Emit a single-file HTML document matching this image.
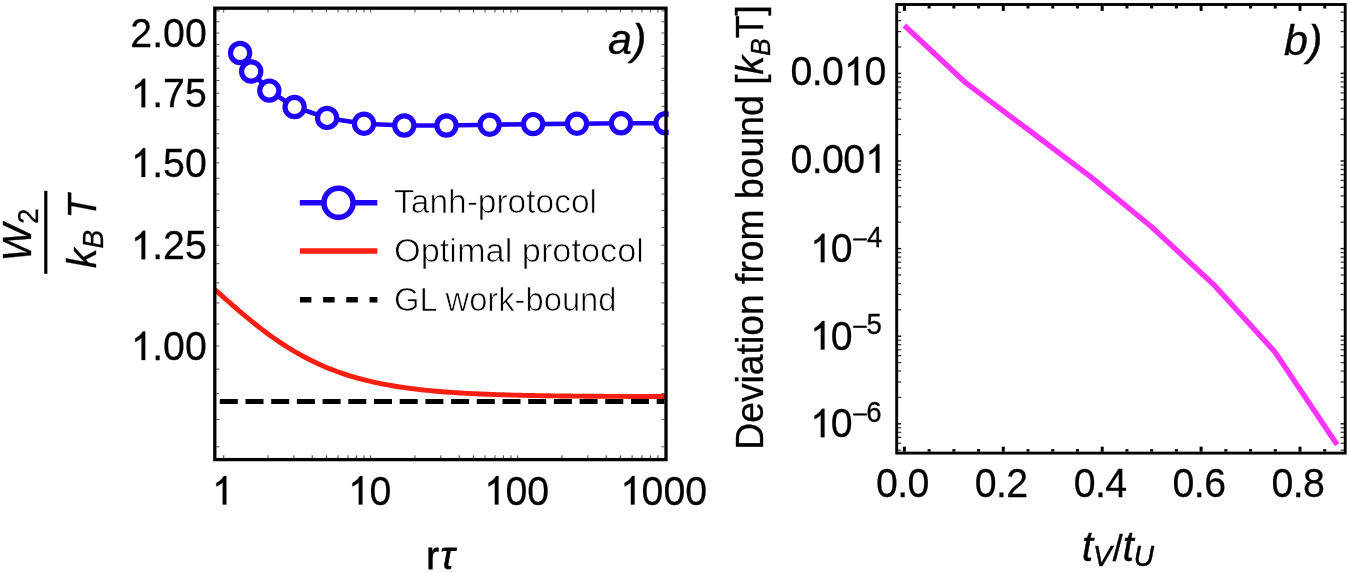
<!DOCTYPE html>
<html><head><meta charset="utf-8"><style>html,body{margin:0;padding:0;background:#fff;}svg{display:block;will-change:transform;}</style></head>
<body><svg width="1350" height="573" viewBox="0 0 1350 573">
<rect width="1350" height="573" fill="#fff"/>
<line x1="216.4" y1="446.77" x2="219.4" y2="446.77" stroke="#555" stroke-width="1"/>
<line x1="661.4" y1="446.77" x2="664.4" y2="446.77" stroke="#555" stroke-width="1"/>
<line x1="216.4" y1="419.39" x2="219.4" y2="419.39" stroke="#555" stroke-width="1"/>
<line x1="661.4" y1="419.39" x2="664.4" y2="419.39" stroke="#555" stroke-width="1"/>
<line x1="216.4" y1="393.58" x2="219.4" y2="393.58" stroke="#555" stroke-width="1"/>
<line x1="661.4" y1="393.58" x2="664.4" y2="393.58" stroke="#555" stroke-width="1"/>
<line x1="216.4" y1="369.16" x2="219.4" y2="369.16" stroke="#555" stroke-width="1"/>
<line x1="661.4" y1="369.16" x2="664.4" y2="369.16" stroke="#555" stroke-width="1"/>
<line x1="216.4" y1="346.00" x2="219.4" y2="346.00" stroke="#555" stroke-width="1"/>
<line x1="661.4" y1="346.00" x2="664.4" y2="346.00" stroke="#555" stroke-width="1"/>
<line x1="216.4" y1="323.97" x2="219.4" y2="323.97" stroke="#555" stroke-width="1"/>
<line x1="661.4" y1="323.97" x2="664.4" y2="323.97" stroke="#555" stroke-width="1"/>
<line x1="216.4" y1="302.96" x2="219.4" y2="302.96" stroke="#555" stroke-width="1"/>
<line x1="661.4" y1="302.96" x2="664.4" y2="302.96" stroke="#555" stroke-width="1"/>
<line x1="216.4" y1="282.88" x2="219.4" y2="282.88" stroke="#555" stroke-width="1"/>
<line x1="661.4" y1="282.88" x2="664.4" y2="282.88" stroke="#555" stroke-width="1"/>
<line x1="216.4" y1="263.66" x2="219.4" y2="263.66" stroke="#555" stroke-width="1"/>
<line x1="661.4" y1="263.66" x2="664.4" y2="263.66" stroke="#555" stroke-width="1"/>
<line x1="216.4" y1="245.23" x2="219.4" y2="245.23" stroke="#555" stroke-width="1"/>
<line x1="661.4" y1="245.23" x2="664.4" y2="245.23" stroke="#555" stroke-width="1"/>
<line x1="216.4" y1="227.52" x2="219.4" y2="227.52" stroke="#555" stroke-width="1"/>
<line x1="661.4" y1="227.52" x2="664.4" y2="227.52" stroke="#555" stroke-width="1"/>
<line x1="216.4" y1="210.47" x2="219.4" y2="210.47" stroke="#555" stroke-width="1"/>
<line x1="661.4" y1="210.47" x2="664.4" y2="210.47" stroke="#555" stroke-width="1"/>
<line x1="216.4" y1="194.05" x2="219.4" y2="194.05" stroke="#555" stroke-width="1"/>
<line x1="661.4" y1="194.05" x2="664.4" y2="194.05" stroke="#555" stroke-width="1"/>
<line x1="216.4" y1="178.20" x2="219.4" y2="178.20" stroke="#555" stroke-width="1"/>
<line x1="661.4" y1="178.20" x2="664.4" y2="178.20" stroke="#555" stroke-width="1"/>
<line x1="216.4" y1="162.89" x2="219.4" y2="162.89" stroke="#555" stroke-width="1"/>
<line x1="661.4" y1="162.89" x2="664.4" y2="162.89" stroke="#555" stroke-width="1"/>
<line x1="216.4" y1="148.08" x2="219.4" y2="148.08" stroke="#555" stroke-width="1"/>
<line x1="661.4" y1="148.08" x2="664.4" y2="148.08" stroke="#555" stroke-width="1"/>
<line x1="216.4" y1="133.75" x2="219.4" y2="133.75" stroke="#555" stroke-width="1"/>
<line x1="661.4" y1="133.75" x2="664.4" y2="133.75" stroke="#555" stroke-width="1"/>
<line x1="216.4" y1="119.85" x2="219.4" y2="119.85" stroke="#555" stroke-width="1"/>
<line x1="661.4" y1="119.85" x2="664.4" y2="119.85" stroke="#555" stroke-width="1"/>
<line x1="216.4" y1="106.37" x2="219.4" y2="106.37" stroke="#555" stroke-width="1"/>
<line x1="661.4" y1="106.37" x2="664.4" y2="106.37" stroke="#555" stroke-width="1"/>
<line x1="216.4" y1="93.28" x2="219.4" y2="93.28" stroke="#555" stroke-width="1"/>
<line x1="661.4" y1="93.28" x2="664.4" y2="93.28" stroke="#555" stroke-width="1"/>
<line x1="216.4" y1="80.56" x2="219.4" y2="80.56" stroke="#555" stroke-width="1"/>
<line x1="661.4" y1="80.56" x2="664.4" y2="80.56" stroke="#555" stroke-width="1"/>
<line x1="216.4" y1="68.18" x2="219.4" y2="68.18" stroke="#555" stroke-width="1"/>
<line x1="661.4" y1="68.18" x2="664.4" y2="68.18" stroke="#555" stroke-width="1"/>
<line x1="216.4" y1="56.14" x2="219.4" y2="56.14" stroke="#555" stroke-width="1"/>
<line x1="661.4" y1="56.14" x2="664.4" y2="56.14" stroke="#555" stroke-width="1"/>
<line x1="216.4" y1="44.41" x2="219.4" y2="44.41" stroke="#555" stroke-width="1"/>
<line x1="661.4" y1="44.41" x2="664.4" y2="44.41" stroke="#555" stroke-width="1"/>
<line x1="216.4" y1="32.97" x2="219.4" y2="32.97" stroke="#555" stroke-width="1"/>
<line x1="661.4" y1="32.97" x2="664.4" y2="32.97" stroke="#555" stroke-width="1"/>
<line x1="216.4" y1="21.82" x2="219.4" y2="21.82" stroke="#555" stroke-width="1"/>
<line x1="661.4" y1="21.82" x2="664.4" y2="21.82" stroke="#555" stroke-width="1"/>
<line x1="216.4" y1="10.94" x2="219.4" y2="10.94" stroke="#555" stroke-width="1"/>
<line x1="661.4" y1="10.94" x2="664.4" y2="10.94" stroke="#555" stroke-width="1"/>
<line x1="223.70" y1="457.9" x2="223.70" y2="455.2" stroke="#555" stroke-width="1.1"/>
<line x1="223.70" y1="9.8" x2="223.70" y2="12.5" stroke="#555" stroke-width="1.1"/>
<line x1="267.95" y1="457.9" x2="267.95" y2="455.2" stroke="#555" stroke-width="1.1"/>
<line x1="267.95" y1="9.8" x2="267.95" y2="12.5" stroke="#555" stroke-width="1.1"/>
<line x1="293.84" y1="457.9" x2="293.84" y2="455.2" stroke="#555" stroke-width="1.1"/>
<line x1="293.84" y1="9.8" x2="293.84" y2="12.5" stroke="#555" stroke-width="1.1"/>
<line x1="312.20" y1="457.9" x2="312.20" y2="455.2" stroke="#555" stroke-width="1.1"/>
<line x1="312.20" y1="9.8" x2="312.20" y2="12.5" stroke="#555" stroke-width="1.1"/>
<line x1="326.45" y1="457.9" x2="326.45" y2="455.2" stroke="#555" stroke-width="1.1"/>
<line x1="326.45" y1="9.8" x2="326.45" y2="12.5" stroke="#555" stroke-width="1.1"/>
<line x1="338.09" y1="457.9" x2="338.09" y2="455.2" stroke="#555" stroke-width="1.1"/>
<line x1="338.09" y1="9.8" x2="338.09" y2="12.5" stroke="#555" stroke-width="1.1"/>
<line x1="347.93" y1="457.9" x2="347.93" y2="455.2" stroke="#555" stroke-width="1.1"/>
<line x1="347.93" y1="9.8" x2="347.93" y2="12.5" stroke="#555" stroke-width="1.1"/>
<line x1="356.45" y1="457.9" x2="356.45" y2="455.2" stroke="#555" stroke-width="1.1"/>
<line x1="356.45" y1="9.8" x2="356.45" y2="12.5" stroke="#555" stroke-width="1.1"/>
<line x1="363.97" y1="457.9" x2="363.97" y2="455.2" stroke="#555" stroke-width="1.1"/>
<line x1="363.97" y1="9.8" x2="363.97" y2="12.5" stroke="#555" stroke-width="1.1"/>
<line x1="370.70" y1="457.9" x2="370.70" y2="455.2" stroke="#555" stroke-width="1.1"/>
<line x1="370.70" y1="9.8" x2="370.70" y2="12.5" stroke="#555" stroke-width="1.1"/>
<line x1="414.95" y1="457.9" x2="414.95" y2="455.2" stroke="#555" stroke-width="1.1"/>
<line x1="414.95" y1="9.8" x2="414.95" y2="12.5" stroke="#555" stroke-width="1.1"/>
<line x1="440.84" y1="457.9" x2="440.84" y2="455.2" stroke="#555" stroke-width="1.1"/>
<line x1="440.84" y1="9.8" x2="440.84" y2="12.5" stroke="#555" stroke-width="1.1"/>
<line x1="459.20" y1="457.9" x2="459.20" y2="455.2" stroke="#555" stroke-width="1.1"/>
<line x1="459.20" y1="9.8" x2="459.20" y2="12.5" stroke="#555" stroke-width="1.1"/>
<line x1="473.45" y1="457.9" x2="473.45" y2="455.2" stroke="#555" stroke-width="1.1"/>
<line x1="473.45" y1="9.8" x2="473.45" y2="12.5" stroke="#555" stroke-width="1.1"/>
<line x1="485.09" y1="457.9" x2="485.09" y2="455.2" stroke="#555" stroke-width="1.1"/>
<line x1="485.09" y1="9.8" x2="485.09" y2="12.5" stroke="#555" stroke-width="1.1"/>
<line x1="494.93" y1="457.9" x2="494.93" y2="455.2" stroke="#555" stroke-width="1.1"/>
<line x1="494.93" y1="9.8" x2="494.93" y2="12.5" stroke="#555" stroke-width="1.1"/>
<line x1="503.45" y1="457.9" x2="503.45" y2="455.2" stroke="#555" stroke-width="1.1"/>
<line x1="503.45" y1="9.8" x2="503.45" y2="12.5" stroke="#555" stroke-width="1.1"/>
<line x1="510.97" y1="457.9" x2="510.97" y2="455.2" stroke="#555" stroke-width="1.1"/>
<line x1="510.97" y1="9.8" x2="510.97" y2="12.5" stroke="#555" stroke-width="1.1"/>
<line x1="517.70" y1="457.9" x2="517.70" y2="455.2" stroke="#555" stroke-width="1.1"/>
<line x1="517.70" y1="9.8" x2="517.70" y2="12.5" stroke="#555" stroke-width="1.1"/>
<line x1="561.95" y1="457.9" x2="561.95" y2="455.2" stroke="#555" stroke-width="1.1"/>
<line x1="561.95" y1="9.8" x2="561.95" y2="12.5" stroke="#555" stroke-width="1.1"/>
<line x1="587.84" y1="457.9" x2="587.84" y2="455.2" stroke="#555" stroke-width="1.1"/>
<line x1="587.84" y1="9.8" x2="587.84" y2="12.5" stroke="#555" stroke-width="1.1"/>
<line x1="606.20" y1="457.9" x2="606.20" y2="455.2" stroke="#555" stroke-width="1.1"/>
<line x1="606.20" y1="9.8" x2="606.20" y2="12.5" stroke="#555" stroke-width="1.1"/>
<line x1="620.45" y1="457.9" x2="620.45" y2="455.2" stroke="#555" stroke-width="1.1"/>
<line x1="620.45" y1="9.8" x2="620.45" y2="12.5" stroke="#555" stroke-width="1.1"/>
<line x1="632.09" y1="457.9" x2="632.09" y2="455.2" stroke="#555" stroke-width="1.1"/>
<line x1="632.09" y1="9.8" x2="632.09" y2="12.5" stroke="#555" stroke-width="1.1"/>
<line x1="641.93" y1="457.9" x2="641.93" y2="455.2" stroke="#555" stroke-width="1.1"/>
<line x1="641.93" y1="9.8" x2="641.93" y2="12.5" stroke="#555" stroke-width="1.1"/>
<line x1="650.45" y1="457.9" x2="650.45" y2="455.2" stroke="#555" stroke-width="1.1"/>
<line x1="650.45" y1="9.8" x2="650.45" y2="12.5" stroke="#555" stroke-width="1.1"/>
<line x1="657.97" y1="457.9" x2="657.97" y2="455.2" stroke="#555" stroke-width="1.1"/>
<line x1="657.97" y1="9.8" x2="657.97" y2="12.5" stroke="#555" stroke-width="1.1"/>
<line x1="219.8" y1="401.5" x2="664.5" y2="401.5" stroke="#000" stroke-width="5" stroke-dasharray="18 7.7"/>
<path d="M214.8,289.46 L217.8,292.17 L220.9,294.88 L223.9,297.58 L226.9,300.26 L230.0,302.93 L233.0,305.58 L236.0,308.21 L239.1,310.82 L242.1,313.39 L245.1,315.94 L248.2,318.45 L251.2,320.93 L254.3,323.37 L257.3,325.78 L260.3,328.14 L263.4,330.45 L266.4,332.72 L269.4,334.95 L272.5,337.13 L275.5,339.26 L278.5,341.34 L281.6,343.37 L284.6,345.34 L287.6,347.27 L290.7,349.15 L293.7,350.97 L296.7,352.74 L299.8,354.46 L302.8,356.13 L305.8,357.74 L308.9,359.31 L311.9,360.82 L315.0,362.29 L318.0,363.71 L321.0,365.07 L324.1,366.39 L327.1,367.67 L330.1,368.90 L333.2,370.08 L336.2,371.22 L339.2,372.32 L342.3,373.37 L345.3,374.39 L348.3,375.36 L351.4,376.30 L354.4,377.20 L357.4,378.06 L360.5,378.89 L363.5,379.69 L366.5,380.45 L369.6,381.18 L372.6,381.88 L375.6,382.55 L378.7,383.20 L381.7,383.81 L384.8,384.40 L387.8,384.96 L390.8,385.50 L393.9,386.02 L396.9,386.51 L399.9,386.98 L403.0,387.43 L406.0,387.86 L409.0,388.27 L412.1,388.67 L415.1,389.04 L418.1,389.40 L421.2,389.74 L424.2,390.07 L427.2,390.38 L430.3,390.68 L433.3,390.96 L436.3,391.23 L439.4,391.49 L442.4,391.73 L445.5,391.97 L448.5,392.19 L451.5,392.40 L454.6,392.61 L457.6,392.80 L460.6,392.99 L463.7,393.16 L466.7,393.33 L469.7,393.49 L472.8,393.64 L475.8,393.79 L478.8,393.93 L481.9,394.06 L484.9,394.18 L487.9,394.30 L491.0,394.42 L494.0,394.52 L497.0,394.63 L500.1,394.73 L503.1,394.82 L506.2,394.91 L509.2,394.99 L512.2,395.08 L515.3,395.15 L518.3,395.23 L521.3,395.30 L524.4,395.36 L527.4,395.43 L530.4,395.49 L533.5,395.54 L536.5,395.60 L539.5,395.65 L542.6,395.70 L545.6,395.75 L548.6,395.79 L551.7,395.83 L554.7,395.87 L557.7,395.91 L560.8,395.95 L563.8,395.99 L566.8,396.02 L569.9,396.05 L572.9,396.08 L576.0,396.11 L579.0,396.14 L582.0,396.16 L585.1,396.19 L588.1,396.21 L591.1,396.23 L594.2,396.25 L597.2,396.28 L600.2,396.29 L603.3,396.31 L606.3,396.33 L609.3,396.35 L612.4,396.36 L615.4,396.38 L618.4,396.39 L621.5,396.41 L624.5,396.42 L627.5,396.43 L630.6,396.44 L633.6,396.45 L636.7,396.47 L639.7,396.48 L642.7,396.49 L645.8,396.49 L648.8,396.50 L651.8,396.51 L654.9,396.52 L657.9,396.53 L660.9,396.53 L664.0,396.54 L667.0,396.55" fill="none" stroke="#f81e10" stroke-width="4.9" stroke-linejoin="round"/>
<clipPath id="ca"><rect x="200" y="0" width="468.7" height="470"/></clipPath>
<g clip-path="url(#ca)">
<path d="M240.1,53.0 L251.2,71.5 L269.3,90.6 L294.6,107.0 L327.1,117.9 L364.0,123.7 L404.3,125.5 L446.5,125.5 L489.7,124.7 L533.1,124.1 L577.0,123.7 L621.0,123.3 L665.5,123.3" fill="none" stroke="#2000ff" stroke-width="4.6"/>
<circle cx="240.1" cy="53" r="9.6" fill="#fff" stroke="#2000ff" stroke-width="5.2"/>
<circle cx="251.2" cy="71.5" r="9.6" fill="#fff" stroke="#2000ff" stroke-width="5.2"/>
<circle cx="269.3" cy="90.6" r="9.6" fill="#fff" stroke="#2000ff" stroke-width="5.2"/>
<circle cx="294.6" cy="107" r="9.6" fill="#fff" stroke="#2000ff" stroke-width="5.2"/>
<circle cx="327.1" cy="117.9" r="9.6" fill="#fff" stroke="#2000ff" stroke-width="5.2"/>
<circle cx="364" cy="123.7" r="9.6" fill="#fff" stroke="#2000ff" stroke-width="5.2"/>
<circle cx="404.3" cy="125.5" r="9.6" fill="#fff" stroke="#2000ff" stroke-width="5.2"/>
<circle cx="446.5" cy="125.5" r="9.6" fill="#fff" stroke="#2000ff" stroke-width="5.2"/>
<circle cx="489.7" cy="124.7" r="9.6" fill="#fff" stroke="#2000ff" stroke-width="5.2"/>
<circle cx="533.1" cy="124.1" r="9.6" fill="#fff" stroke="#2000ff" stroke-width="5.2"/>
<circle cx="577" cy="123.7" r="9.6" fill="#fff" stroke="#2000ff" stroke-width="5.2"/>
<circle cx="621" cy="123.3" r="9.6" fill="#fff" stroke="#2000ff" stroke-width="5.2"/>
<circle cx="665.5" cy="123.3" r="9.6" fill="#fff" stroke="#2000ff" stroke-width="5.2"/>
</g>
<rect x="214.8" y="8.2" width="451.2" height="451.4" fill="none" stroke="#000" stroke-width="3.3"/>
<line x1="299.8" y1="202.7" x2="377.3" y2="202.7" stroke="#2000ff" stroke-width="5.4"/>
<circle cx="338.5" cy="202.8" r="14.6" fill="#fff" stroke="#2000ff" stroke-width="5.6"/>
<line x1="299.9" y1="251" x2="377.3" y2="251" stroke="#f81e10" stroke-width="5.4"/>
<line x1="299.9" y1="299.8" x2="377.4" y2="299.8" stroke="#000" stroke-width="5.6" stroke-dasharray="11.5 11.7"/>
<text x="394" y="213.1" font-family="Liberation Sans, sans-serif" font-size="33" textLength="203" lengthAdjust="spacingAndGlyphs" stroke="#fff" stroke-width="0.7">Tanh-protocol</text>
<text x="394" y="262.2" font-family="Liberation Sans, sans-serif" font-size="33" textLength="250" lengthAdjust="spacingAndGlyphs" stroke="#fff" stroke-width="0.7">Optimal protocol</text>
<text x="394" y="310.8" font-family="Liberation Sans, sans-serif" font-size="33" textLength="222.5" lengthAdjust="spacingAndGlyphs" stroke="#fff" stroke-width="0.7">GL work-bound</text>
<text x="608" y="54" font-family="Liberation Sans, sans-serif" font-style="italic" font-size="43" stroke="#000" stroke-width="0.4">a)</text>
<text transform="translate(0,46.97) scale(1,1.055)" x="130.31 152.17 163.09 184.94" y="0" font-family="Liberation Sans, sans-serif" font-size="39.3"  stroke="#000" stroke-width="0.25" >2.00</text>
<text transform="translate(0,107.28) scale(1,1.055)" x="152.17 163.09 184.94" y="0" font-family="Liberation Sans, sans-serif" font-size="39.3"  stroke="#000" stroke-width="0.25" >.75</text>
<path transform="translate(130.31,107.28) scale(0.01919,-0.01938)" d="M775,0 L585,0 L585,1140 Q520,1080 420,1020 Q330,965 255,935 L255,1112 Q390,1180 495,1280 Q600,1380 650,1472 L775,1472 Z" stroke="#000" stroke-width="13.027989821882953"/>
<text transform="translate(0,176.89) scale(1,1.055)" x="152.17 163.09 184.94" y="0" font-family="Liberation Sans, sans-serif" font-size="39.3"  stroke="#000" stroke-width="0.25" >.50</text>
<path transform="translate(130.31,176.89) scale(0.01919,-0.01938)" d="M775,0 L585,0 L585,1140 Q520,1080 420,1020 Q330,965 255,935 L255,1112 Q390,1180 495,1280 Q600,1380 650,1472 L775,1472 Z" stroke="#000" stroke-width="13.027989821882953"/>
<text transform="translate(0,259.23) scale(1,1.055)" x="152.17 163.09 184.94" y="0" font-family="Liberation Sans, sans-serif" font-size="39.3"  stroke="#000" stroke-width="0.25" >.25</text>
<path transform="translate(130.31,259.23) scale(0.01919,-0.01938)" d="M775,0 L585,0 L585,1140 Q520,1080 420,1020 Q330,965 255,935 L255,1112 Q390,1180 495,1280 Q600,1380 650,1472 L775,1472 Z" stroke="#000" stroke-width="13.027989821882953"/>
<text transform="translate(0,360.00) scale(1,1.055)" x="152.17 163.09 184.94" y="0" font-family="Liberation Sans, sans-serif" font-size="39.3"  stroke="#000" stroke-width="0.25" >.00</text>
<path transform="translate(130.31,360.00) scale(0.01919,-0.01938)" d="M775,0 L585,0 L585,1140 Q520,1080 420,1020 Q330,965 255,935 L255,1112 Q390,1180 495,1280 Q600,1380 650,1472 L775,1472 Z" stroke="#000" stroke-width="13.027989821882953"/>
<path transform="translate(211.47,504.50) scale(0.01919,-0.01938)" d="M775,0 L585,0 L585,1140 Q520,1080 420,1020 Q330,965 255,935 L255,1112 Q390,1180 495,1280 Q600,1380 650,1472 L775,1472 Z" stroke="#000" stroke-width="13.027989821882953"/>
<text transform="translate(0,504.50) scale(1,1.055)" x="369.40" y="0" font-family="Liberation Sans, sans-serif" font-size="39.3"  stroke="#000" stroke-width="0.25" >0</text>
<path transform="translate(347.54,504.50) scale(0.01919,-0.01938)" d="M775,0 L585,0 L585,1140 Q520,1080 420,1020 Q330,965 255,935 L255,1112 Q390,1180 495,1280 Q600,1380 650,1472 L775,1472 Z" stroke="#000" stroke-width="13.027989821882953"/>
<text transform="translate(0,504.50) scale(1,1.055)" x="505.47 527.33" y="0" font-family="Liberation Sans, sans-serif" font-size="39.3"  stroke="#000" stroke-width="0.25" >00</text>
<path transform="translate(483.61,504.50) scale(0.01919,-0.01938)" d="M775,0 L585,0 L585,1140 Q520,1080 420,1020 Q330,965 255,935 L255,1112 Q390,1180 495,1280 Q600,1380 650,1472 L775,1472 Z" stroke="#000" stroke-width="13.027989821882953"/>
<text transform="translate(0,504.50) scale(1,1.055)" x="641.54 663.40 685.26" y="0" font-family="Liberation Sans, sans-serif" font-size="39.3"  stroke="#000" stroke-width="0.25" >000</text>
<path transform="translate(619.69,504.50) scale(0.01919,-0.01938)" d="M775,0 L585,0 L585,1140 Q520,1080 420,1020 Q330,965 255,935 L255,1112 Q390,1180 495,1280 Q600,1380 650,1472 L775,1472 Z" stroke="#000" stroke-width="13.027989821882953"/>
<text transform="translate(0,569) scale(1,1.02)" x="426.3" y="0" font-family="Liberation Sans, sans-serif" font-size="38" stroke="#000" stroke-width="0.75">r<tspan font-style="italic" dx="1.6">τ</tspan></text>
<line x1="45.8" y1="190.8" x2="45.8" y2="273.8" stroke="#000" stroke-width="3.2"/>
<g transform="translate(31.4,261.4) rotate(-90) scale(1,1.045)"><text x="0" y="0" font-family="Liberation Sans, sans-serif" font-size="39.6" stroke="#000" stroke-width="0.3"><tspan font-style="italic">W</tspan><tspan font-size="28" dy="6.7">2</tspan></text></g>
<g transform="translate(96.4,268.2) rotate(-90) scale(1,1.045)"><text x="0" y="0" font-family="Liberation Sans, sans-serif" font-size="39.6" font-style="italic" stroke="#000" stroke-width="0.3">k<tspan font-size="28" dy="6.7">B</tspan><tspan dy="-6.7"> T</tspan></text></g>
<line x1="898" y1="450.17" x2="901.2" y2="450.17" stroke="#333" stroke-width="1.25"/>
<line x1="1340.6" y1="450.17" x2="1343.8" y2="450.17" stroke="#333" stroke-width="1.25"/>
<line x1="898" y1="443.23" x2="901.2" y2="443.23" stroke="#333" stroke-width="1.25"/>
<line x1="1340.6" y1="443.23" x2="1343.8" y2="443.23" stroke="#333" stroke-width="1.25"/>
<line x1="898" y1="437.37" x2="901.2" y2="437.37" stroke="#333" stroke-width="1.25"/>
<line x1="1340.6" y1="437.37" x2="1343.8" y2="437.37" stroke="#333" stroke-width="1.25"/>
<line x1="898" y1="432.29" x2="901.2" y2="432.29" stroke="#333" stroke-width="1.25"/>
<line x1="1340.6" y1="432.29" x2="1343.8" y2="432.29" stroke="#333" stroke-width="1.25"/>
<line x1="898" y1="427.81" x2="901.2" y2="427.81" stroke="#333" stroke-width="1.25"/>
<line x1="1340.6" y1="427.81" x2="1343.8" y2="427.81" stroke="#333" stroke-width="1.25"/>
<line x1="898" y1="423.80" x2="901.2" y2="423.80" stroke="#111" stroke-width="1.5"/>
<line x1="1340.6" y1="423.80" x2="1343.8" y2="423.80" stroke="#111" stroke-width="1.5"/>
<line x1="898" y1="397.43" x2="901.2" y2="397.43" stroke="#333" stroke-width="1.25"/>
<line x1="1340.6" y1="397.43" x2="1343.8" y2="397.43" stroke="#333" stroke-width="1.25"/>
<line x1="898" y1="382.00" x2="901.2" y2="382.00" stroke="#333" stroke-width="1.25"/>
<line x1="1340.6" y1="382.00" x2="1343.8" y2="382.00" stroke="#333" stroke-width="1.25"/>
<line x1="898" y1="371.06" x2="901.2" y2="371.06" stroke="#333" stroke-width="1.25"/>
<line x1="1340.6" y1="371.06" x2="1343.8" y2="371.06" stroke="#333" stroke-width="1.25"/>
<line x1="898" y1="362.57" x2="901.2" y2="362.57" stroke="#333" stroke-width="1.25"/>
<line x1="1340.6" y1="362.57" x2="1343.8" y2="362.57" stroke="#333" stroke-width="1.25"/>
<line x1="898" y1="355.63" x2="901.2" y2="355.63" stroke="#333" stroke-width="1.25"/>
<line x1="1340.6" y1="355.63" x2="1343.8" y2="355.63" stroke="#333" stroke-width="1.25"/>
<line x1="898" y1="349.77" x2="901.2" y2="349.77" stroke="#333" stroke-width="1.25"/>
<line x1="1340.6" y1="349.77" x2="1343.8" y2="349.77" stroke="#333" stroke-width="1.25"/>
<line x1="898" y1="344.69" x2="901.2" y2="344.69" stroke="#333" stroke-width="1.25"/>
<line x1="1340.6" y1="344.69" x2="1343.8" y2="344.69" stroke="#333" stroke-width="1.25"/>
<line x1="898" y1="340.21" x2="901.2" y2="340.21" stroke="#333" stroke-width="1.25"/>
<line x1="1340.6" y1="340.21" x2="1343.8" y2="340.21" stroke="#333" stroke-width="1.25"/>
<line x1="898" y1="336.20" x2="901.2" y2="336.20" stroke="#111" stroke-width="1.5"/>
<line x1="1340.6" y1="336.20" x2="1343.8" y2="336.20" stroke="#111" stroke-width="1.5"/>
<line x1="898" y1="309.83" x2="901.2" y2="309.83" stroke="#333" stroke-width="1.25"/>
<line x1="1340.6" y1="309.83" x2="1343.8" y2="309.83" stroke="#333" stroke-width="1.25"/>
<line x1="898" y1="294.40" x2="901.2" y2="294.40" stroke="#333" stroke-width="1.25"/>
<line x1="1340.6" y1="294.40" x2="1343.8" y2="294.40" stroke="#333" stroke-width="1.25"/>
<line x1="898" y1="283.46" x2="901.2" y2="283.46" stroke="#333" stroke-width="1.25"/>
<line x1="1340.6" y1="283.46" x2="1343.8" y2="283.46" stroke="#333" stroke-width="1.25"/>
<line x1="898" y1="274.97" x2="901.2" y2="274.97" stroke="#333" stroke-width="1.25"/>
<line x1="1340.6" y1="274.97" x2="1343.8" y2="274.97" stroke="#333" stroke-width="1.25"/>
<line x1="898" y1="268.03" x2="901.2" y2="268.03" stroke="#333" stroke-width="1.25"/>
<line x1="1340.6" y1="268.03" x2="1343.8" y2="268.03" stroke="#333" stroke-width="1.25"/>
<line x1="898" y1="262.17" x2="901.2" y2="262.17" stroke="#333" stroke-width="1.25"/>
<line x1="1340.6" y1="262.17" x2="1343.8" y2="262.17" stroke="#333" stroke-width="1.25"/>
<line x1="898" y1="257.09" x2="901.2" y2="257.09" stroke="#333" stroke-width="1.25"/>
<line x1="1340.6" y1="257.09" x2="1343.8" y2="257.09" stroke="#333" stroke-width="1.25"/>
<line x1="898" y1="252.61" x2="901.2" y2="252.61" stroke="#333" stroke-width="1.25"/>
<line x1="1340.6" y1="252.61" x2="1343.8" y2="252.61" stroke="#333" stroke-width="1.25"/>
<line x1="898" y1="248.60" x2="901.2" y2="248.60" stroke="#111" stroke-width="1.5"/>
<line x1="1340.6" y1="248.60" x2="1343.8" y2="248.60" stroke="#111" stroke-width="1.5"/>
<line x1="898" y1="222.23" x2="901.2" y2="222.23" stroke="#333" stroke-width="1.25"/>
<line x1="1340.6" y1="222.23" x2="1343.8" y2="222.23" stroke="#333" stroke-width="1.25"/>
<line x1="898" y1="206.80" x2="901.2" y2="206.80" stroke="#333" stroke-width="1.25"/>
<line x1="1340.6" y1="206.80" x2="1343.8" y2="206.80" stroke="#333" stroke-width="1.25"/>
<line x1="898" y1="195.86" x2="901.2" y2="195.86" stroke="#333" stroke-width="1.25"/>
<line x1="1340.6" y1="195.86" x2="1343.8" y2="195.86" stroke="#333" stroke-width="1.25"/>
<line x1="898" y1="187.37" x2="901.2" y2="187.37" stroke="#333" stroke-width="1.25"/>
<line x1="1340.6" y1="187.37" x2="1343.8" y2="187.37" stroke="#333" stroke-width="1.25"/>
<line x1="898" y1="180.43" x2="901.2" y2="180.43" stroke="#333" stroke-width="1.25"/>
<line x1="1340.6" y1="180.43" x2="1343.8" y2="180.43" stroke="#333" stroke-width="1.25"/>
<line x1="898" y1="174.57" x2="901.2" y2="174.57" stroke="#333" stroke-width="1.25"/>
<line x1="1340.6" y1="174.57" x2="1343.8" y2="174.57" stroke="#333" stroke-width="1.25"/>
<line x1="898" y1="169.49" x2="901.2" y2="169.49" stroke="#333" stroke-width="1.25"/>
<line x1="1340.6" y1="169.49" x2="1343.8" y2="169.49" stroke="#333" stroke-width="1.25"/>
<line x1="898" y1="165.01" x2="901.2" y2="165.01" stroke="#333" stroke-width="1.25"/>
<line x1="1340.6" y1="165.01" x2="1343.8" y2="165.01" stroke="#333" stroke-width="1.25"/>
<line x1="898" y1="161.00" x2="901.2" y2="161.00" stroke="#111" stroke-width="1.5"/>
<line x1="1340.6" y1="161.00" x2="1343.8" y2="161.00" stroke="#111" stroke-width="1.5"/>
<line x1="898" y1="134.63" x2="901.2" y2="134.63" stroke="#333" stroke-width="1.25"/>
<line x1="1340.6" y1="134.63" x2="1343.8" y2="134.63" stroke="#333" stroke-width="1.25"/>
<line x1="898" y1="119.20" x2="901.2" y2="119.20" stroke="#333" stroke-width="1.25"/>
<line x1="1340.6" y1="119.20" x2="1343.8" y2="119.20" stroke="#333" stroke-width="1.25"/>
<line x1="898" y1="108.26" x2="901.2" y2="108.26" stroke="#333" stroke-width="1.25"/>
<line x1="1340.6" y1="108.26" x2="1343.8" y2="108.26" stroke="#333" stroke-width="1.25"/>
<line x1="898" y1="99.77" x2="901.2" y2="99.77" stroke="#333" stroke-width="1.25"/>
<line x1="1340.6" y1="99.77" x2="1343.8" y2="99.77" stroke="#333" stroke-width="1.25"/>
<line x1="898" y1="92.83" x2="901.2" y2="92.83" stroke="#333" stroke-width="1.25"/>
<line x1="1340.6" y1="92.83" x2="1343.8" y2="92.83" stroke="#333" stroke-width="1.25"/>
<line x1="898" y1="86.97" x2="901.2" y2="86.97" stroke="#333" stroke-width="1.25"/>
<line x1="1340.6" y1="86.97" x2="1343.8" y2="86.97" stroke="#333" stroke-width="1.25"/>
<line x1="898" y1="81.89" x2="901.2" y2="81.89" stroke="#333" stroke-width="1.25"/>
<line x1="1340.6" y1="81.89" x2="1343.8" y2="81.89" stroke="#333" stroke-width="1.25"/>
<line x1="898" y1="77.41" x2="901.2" y2="77.41" stroke="#333" stroke-width="1.25"/>
<line x1="1340.6" y1="77.41" x2="1343.8" y2="77.41" stroke="#333" stroke-width="1.25"/>
<line x1="898" y1="73.40" x2="901.2" y2="73.40" stroke="#111" stroke-width="1.5"/>
<line x1="1340.6" y1="73.40" x2="1343.8" y2="73.40" stroke="#111" stroke-width="1.5"/>
<line x1="898" y1="47.03" x2="901.2" y2="47.03" stroke="#333" stroke-width="1.25"/>
<line x1="1340.6" y1="47.03" x2="1343.8" y2="47.03" stroke="#333" stroke-width="1.25"/>
<line x1="898" y1="31.60" x2="901.2" y2="31.60" stroke="#333" stroke-width="1.25"/>
<line x1="1340.6" y1="31.60" x2="1343.8" y2="31.60" stroke="#333" stroke-width="1.25"/>
<line x1="898" y1="20.66" x2="901.2" y2="20.66" stroke="#333" stroke-width="1.25"/>
<line x1="1340.6" y1="20.66" x2="1343.8" y2="20.66" stroke="#333" stroke-width="1.25"/>
<line x1="898" y1="12.17" x2="901.2" y2="12.17" stroke="#333" stroke-width="1.25"/>
<line x1="1340.6" y1="12.17" x2="1343.8" y2="12.17" stroke="#333" stroke-width="1.25"/>
<line x1="904.40" y1="451.7" x2="904.40" y2="446.7" stroke="#000" stroke-width="3"/>
<line x1="904.40" y1="5.9" x2="904.40" y2="10.9" stroke="#000" stroke-width="3"/>
<line x1="929.12" y1="451.7" x2="929.12" y2="449.09999999999997" stroke="#000" stroke-width="3"/>
<line x1="929.12" y1="5.9" x2="929.12" y2="8.5" stroke="#000" stroke-width="3"/>
<line x1="953.85" y1="451.7" x2="953.85" y2="449.09999999999997" stroke="#000" stroke-width="3"/>
<line x1="953.85" y1="5.9" x2="953.85" y2="8.5" stroke="#000" stroke-width="3"/>
<line x1="978.58" y1="451.7" x2="978.58" y2="449.09999999999997" stroke="#000" stroke-width="3"/>
<line x1="978.58" y1="5.9" x2="978.58" y2="8.5" stroke="#000" stroke-width="3"/>
<line x1="1003.30" y1="451.7" x2="1003.30" y2="446.7" stroke="#000" stroke-width="3"/>
<line x1="1003.30" y1="5.9" x2="1003.30" y2="10.9" stroke="#000" stroke-width="3"/>
<line x1="1028.03" y1="451.7" x2="1028.03" y2="449.09999999999997" stroke="#000" stroke-width="3"/>
<line x1="1028.03" y1="5.9" x2="1028.03" y2="8.5" stroke="#000" stroke-width="3"/>
<line x1="1052.75" y1="451.7" x2="1052.75" y2="449.09999999999997" stroke="#000" stroke-width="3"/>
<line x1="1052.75" y1="5.9" x2="1052.75" y2="8.5" stroke="#000" stroke-width="3"/>
<line x1="1077.47" y1="451.7" x2="1077.47" y2="449.09999999999997" stroke="#000" stroke-width="3"/>
<line x1="1077.47" y1="5.9" x2="1077.47" y2="8.5" stroke="#000" stroke-width="3"/>
<line x1="1102.20" y1="451.7" x2="1102.20" y2="446.7" stroke="#000" stroke-width="3"/>
<line x1="1102.20" y1="5.9" x2="1102.20" y2="10.9" stroke="#000" stroke-width="3"/>
<line x1="1126.92" y1="451.7" x2="1126.92" y2="449.09999999999997" stroke="#000" stroke-width="3"/>
<line x1="1126.92" y1="5.9" x2="1126.92" y2="8.5" stroke="#000" stroke-width="3"/>
<line x1="1151.65" y1="451.7" x2="1151.65" y2="449.09999999999997" stroke="#000" stroke-width="3"/>
<line x1="1151.65" y1="5.9" x2="1151.65" y2="8.5" stroke="#000" stroke-width="3"/>
<line x1="1176.38" y1="451.7" x2="1176.38" y2="449.09999999999997" stroke="#000" stroke-width="3"/>
<line x1="1176.38" y1="5.9" x2="1176.38" y2="8.5" stroke="#000" stroke-width="3"/>
<line x1="1201.10" y1="451.7" x2="1201.10" y2="446.7" stroke="#000" stroke-width="3"/>
<line x1="1201.10" y1="5.9" x2="1201.10" y2="10.9" stroke="#000" stroke-width="3"/>
<line x1="1225.83" y1="451.7" x2="1225.83" y2="449.09999999999997" stroke="#000" stroke-width="3"/>
<line x1="1225.83" y1="5.9" x2="1225.83" y2="8.5" stroke="#000" stroke-width="3"/>
<line x1="1250.55" y1="451.7" x2="1250.55" y2="449.09999999999997" stroke="#000" stroke-width="3"/>
<line x1="1250.55" y1="5.9" x2="1250.55" y2="8.5" stroke="#000" stroke-width="3"/>
<line x1="1275.28" y1="451.7" x2="1275.28" y2="449.09999999999997" stroke="#000" stroke-width="3"/>
<line x1="1275.28" y1="5.9" x2="1275.28" y2="8.5" stroke="#000" stroke-width="3"/>
<line x1="1300.00" y1="451.7" x2="1300.00" y2="446.7" stroke="#000" stroke-width="3"/>
<line x1="1300.00" y1="5.9" x2="1300.00" y2="10.9" stroke="#000" stroke-width="3"/>
<line x1="1324.72" y1="451.7" x2="1324.72" y2="449.09999999999997" stroke="#000" stroke-width="3"/>
<line x1="1324.72" y1="5.9" x2="1324.72" y2="8.5" stroke="#000" stroke-width="3"/>
<path d="M904.4,25.6 L966.2,83.2 L1028.0,129.5 L1089.8,176.2 L1151.7,227.0 L1213.5,284.4 L1275.3,352.4 L1337.1,444.8" fill="none" stroke="#ff33ff" stroke-width="5.4" stroke-linejoin="round"/>
<rect x="896.7" y="4.5" width="448.5" height="448.6" fill="none" stroke="#000" stroke-width="2.9"/>
<text x="1284" y="54.6" font-family="Liberation Sans, sans-serif" font-style="italic" font-size="43" stroke="#000" stroke-width="0.4">b)</text>
<text transform="translate(0,85.30) scale(1,1.055)" x="790.53 811.77 822.07 864.54" y="0" font-family="Liberation Sans, sans-serif" font-size="39.3"  stroke="#000" stroke-width="0.25" >0.00</text>
<path transform="translate(843.31,85.30) scale(0.01919,-0.01938)" d="M775,0 L585,0 L585,1140 Q520,1080 420,1020 Q330,965 255,935 L255,1112 Q390,1180 495,1280 Q600,1380 650,1472 L775,1472 Z" stroke="#000" stroke-width="13.027989821882953"/>
<text transform="translate(0,172.70) scale(1,1.055)" x="790.53 811.77 822.07 843.31" y="0" font-family="Liberation Sans, sans-serif" font-size="39.3"  stroke="#000" stroke-width="0.25" >0.00</text>
<path transform="translate(864.54,172.70) scale(0.01919,-0.01938)" d="M775,0 L585,0 L585,1140 Q520,1080 420,1020 Q330,965 255,935 L255,1112 Q390,1180 495,1280 Q600,1380 650,1472 L775,1472 Z" stroke="#000" stroke-width="13.027989821882953"/>
<text transform="translate(0,262.20) scale(1,1.055)" x="830.84" y="0" font-family="Liberation Sans, sans-serif" font-size="39.3"  stroke="#000" stroke-width="0.25" >0</text>
<path transform="translate(809.60,262.20) scale(0.01919,-0.01938)" d="M775,0 L585,0 L585,1140 Q520,1080 420,1020 Q330,965 255,935 L255,1112 Q390,1180 495,1280 Q600,1380 650,1472 L775,1472 Z" stroke="#000" stroke-width="13.027989821882953"/>
<rect x="853.2" y="238.40" width="13.6" height="2.1" fill="#000"/>
<text transform="translate(0,246.80) scale(1,1.055)" x="866.97" y="0" font-family="Liberation Sans, sans-serif" font-size="27.6"  stroke="#000" stroke-width="0.25" >4</text>
<text transform="translate(0,349.50) scale(1,1.055)" x="830.84" y="0" font-family="Liberation Sans, sans-serif" font-size="39.3"  stroke="#000" stroke-width="0.25" >0</text>
<path transform="translate(809.60,349.50) scale(0.01919,-0.01938)" d="M775,0 L585,0 L585,1140 Q520,1080 420,1020 Q330,965 255,935 L255,1112 Q390,1180 495,1280 Q600,1380 650,1472 L775,1472 Z" stroke="#000" stroke-width="13.027989821882953"/>
<rect x="853.2" y="325.70" width="13.6" height="2.1" fill="#000"/>
<text transform="translate(0,334.10) scale(1,1.055)" x="866.49" y="0" font-family="Liberation Sans, sans-serif" font-size="27.6"  stroke="#000" stroke-width="0.25" >5</text>
<text transform="translate(0,437.20) scale(1,1.055)" x="830.84" y="0" font-family="Liberation Sans, sans-serif" font-size="39.3"  stroke="#000" stroke-width="0.25" >0</text>
<path transform="translate(809.60,437.20) scale(0.01919,-0.01938)" d="M775,0 L585,0 L585,1140 Q520,1080 420,1020 Q330,965 255,935 L255,1112 Q390,1180 495,1280 Q600,1380 650,1472 L775,1472 Z" stroke="#000" stroke-width="13.027989821882953"/>
<rect x="853.2" y="413.40" width="13.6" height="2.1" fill="#000"/>
<text transform="translate(0,421.80) scale(1,1.055)" x="866.20" y="0" font-family="Liberation Sans, sans-serif" font-size="27.6"  stroke="#000" stroke-width="0.25" >6</text>
<text transform="translate(0,497.40) scale(1,1.055)" x="875.90 897.14 907.44" y="0" font-family="Liberation Sans, sans-serif" font-size="39.3"  stroke="#000" stroke-width="0.25" >0.0</text>
<text transform="translate(0,497.40) scale(1,1.055)" x="974.80 996.04 1006.34" y="0" font-family="Liberation Sans, sans-serif" font-size="39.3"  stroke="#000" stroke-width="0.25" >0.2</text>
<text transform="translate(0,497.40) scale(1,1.055)" x="1073.70 1094.94 1105.24" y="0" font-family="Liberation Sans, sans-serif" font-size="39.3"  stroke="#000" stroke-width="0.25" >0.4</text>
<text transform="translate(0,497.40) scale(1,1.055)" x="1172.60 1193.84 1204.14" y="0" font-family="Liberation Sans, sans-serif" font-size="39.3"  stroke="#000" stroke-width="0.25" >0.6</text>
<text transform="translate(0,497.40) scale(1,1.055)" x="1271.50 1292.74 1303.04" y="0" font-family="Liberation Sans, sans-serif" font-size="39.3"  stroke="#000" stroke-width="0.25" >0.8</text>
<text transform="translate(0,560.5) scale(1,1.05)" x="1082" y="0" font-family="Liberation Sans, sans-serif" font-size="39.6" font-style="italic" stroke="#000" stroke-width="0.5">t<tspan font-size="28" dy="5.5">V</tspan><tspan dy="-5.5" dx="1.2" font-style="normal" font-size="35.5">/</tspan><tspan dx="0">t</tspan><tspan font-size="28" dy="5.5">U</tspan></text>
<g transform="translate(763.4,449.8) rotate(-90)"><text x="0" y="0" font-family="Liberation Sans, sans-serif" font-size="38.5" textLength="444.6" lengthAdjust="spacingAndGlyphs" stroke="#000" stroke-width="0.35">Deviation from bound [<tspan font-style="italic">k</tspan><tspan font-size="27" dy="7" font-style="italic">B</tspan><tspan dy="-7">T]</tspan></text></g>
</svg></body></html>
